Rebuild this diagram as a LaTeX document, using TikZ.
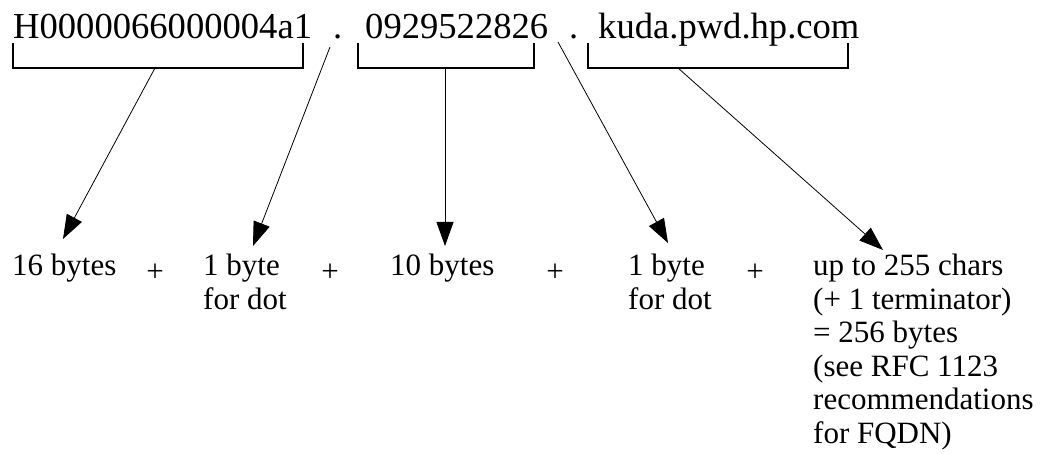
\documentclass[tikz,border=0pt]{standalone}
\usepackage{fontspec}
\setmainfont{Liberation Serif}
\usetikzlibrary{arrows.meta}
\newcommand{\stack}[1]{\begin{tabular}[t]{@{}l@{}}#1\end{tabular}}
\begin{document}
\begin{tikzpicture}[x=1pt,y=-1pt,
  toptext/.style={anchor=base west,inner sep=0pt,font=\fontsize{36.6}{40}\selectfont},
  bottext/.style={anchor=base west,inner sep=0pt,font=\fontsize{31}{33.5}\selectfont},
  plus/.style={inner sep=0pt,font=\fontsize{31}{33.5}\selectfont},
  bracket/.style={line width=1.8pt},
  arr/.style={line width=0.8pt,-{Triangle[length=24pt,width=17pt]}}]
\useasboundingbox (0,0) rectangle (1045,454);
% top texts
\node[toptext] (host) at (13,39) {H0000066000004a1};
\node[toptext] (dot1) at (333,39) {.};
\node[toptext] (num) at (365,39) {0929522826};
\node[toptext] (dot2) at (569,39) {.};
\node[toptext] (dom) at (598,39) {kuda.pwd.hp.com};
% brackets
\draw[bracket] (13,43) -- (13,68) -- (303,68) -- (303,43);
\draw[bracket] (358,43) -- (358,68) -- (534,68) -- (534,43);
\draw[bracket] (588,43) -- (588,68) -- (848,68) -- (848,43);
% connector start points
\coordinate (s1) at (155,68);
\coordinate (s2) at (330,47);
\coordinate (s3) at (445,68);
\coordinate (s4) at (558,42);
\coordinate (s5) at (678,68);
% bottom texts
\node[bottext] (b1) at (12,276) {16 bytes};
\node[plus] (p1) at (155,273) {+};
\node[bottext] (b2) at (203,276) {\stack{1 byte\\for dot}};
\node[plus] (p2) at (330,273) {+};
\node[bottext] (b3) at (390,276) {10 bytes};
\node[plus] (p3) at (555,273) {+};
\node[bottext] (b4) at (628,276) {\stack{1 byte\\for dot}};
\node[plus] (p4) at (755,273) {+};
\node[bottext] (b5) at (813,276) {\stack{up to 255 chars\\(+ 1 terminator)\\= 256 bytes\\(see RFC 1123\\recommendations\\for FQDN)}};
% arrow tips
\coordinate (t1) at (63,239);
\coordinate (t2) at (253,246);
\coordinate (t3) at (445,246);
\coordinate (t4) at (668,243);
\coordinate (t5) at (883,250);
\draw[arr] (s1) -- (t1);
\draw[arr] (s2) -- (t2);
\draw[arr] (s3) -- (t3);
\draw[arr] (s4) -- (t4);
\draw[arr] (s5) -- (t5);
\end{tikzpicture}
\end{document}
